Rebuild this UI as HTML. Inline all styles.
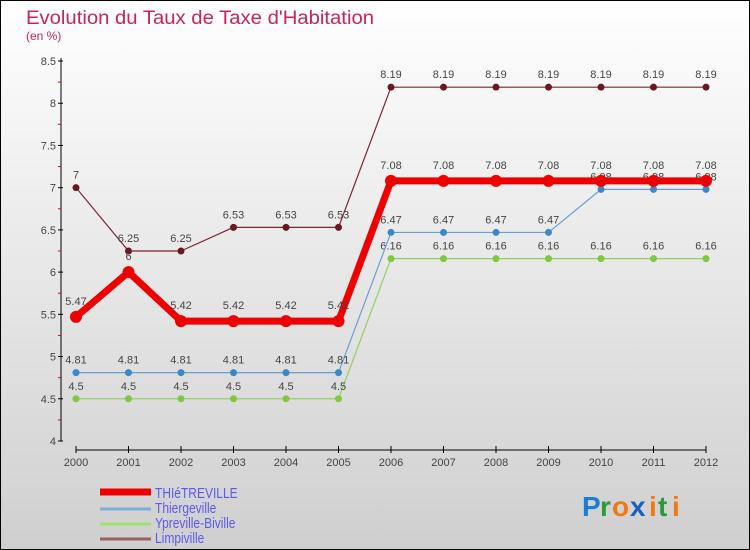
<!DOCTYPE html>
<html><head><meta charset="utf-8"><style>
body{margin:0}
#c{width:750px;height:550px;position:relative;overflow:hidden}
svg text{font-family:"Liberation Sans",sans-serif}
</style></head><body>
<div id="c">
<svg id="s" width="750" height="550" xmlns="http://www.w3.org/2000/svg">
<defs><linearGradient id="bg" x1="0" y1="0" x2="0" y2="1"><stop offset="0" stop-color="#ffffff"/><stop offset="1" stop-color="#cfcfcf"/></linearGradient></defs>
<rect x="0.5" y="0.5" width="749" height="549" fill="url(#bg)" stroke="#000"/>
<text x="26" y="24" font-size="19" fill="#c8245a" textLength="348" lengthAdjust="spacingAndGlyphs">Evolution du Taux de Taxe d'Habitation</text>
<text x="26" y="40" font-size="12" fill="#c8245a">(en %)</text>
<g id="axes"></g>
<g id="series"></g>
<g id="legend"></g>
<g font-size="28" font-weight="bold" font-family="Liberation Sans,sans-serif">
<text x="582" y="516" fill="#1a7fd0">P</text><text x="600" y="516" fill="#2a9a3a">r</text><text x="612" y="516" fill="#f07a10">o</text><text x="630" y="516" fill="#1a5fc0">x</text><text x="649" y="516" fill="#f07a10">i</text><text x="658" y="516" fill="#2a9a3a">t</text><text x="672" y="516" fill="#f07a10">i</text>
</g>
</svg>
</div>
<script>
const years=[2000,2001,2002,2003,2004,2005,2006,2007,2008,2009,2010,2011,2012];
const yTicks=[4,4.5,5,5.5,6,6.5,7,7.5,8,8.5];
const seriesNames=["THIéTREVILLE","Thiergeville","Ypreville-Biville","Limpiville"];
const thietreville=[5.47,6,5.42,5.42,5.42,5.42,7.08,7.08,7.08,7.08,7.08,7.08,7.08];
const thiergeville=[4.81,4.81,4.81,4.81,4.81,4.81,6.47,6.47,6.47,6.47,6.98,6.98,6.98];
const ypreville=[4.5,4.5,4.5,4.5,4.5,4.5,6.16,6.16,6.16,6.16,6.16,6.16,6.16];
const limpiville=[7,6.25,6.25,6.53,6.53,6.53,8.19,8.19,8.19,8.19,8.19,8.19,8.19];
const NS="http://www.w3.org/2000/svg";
function X(i){return 76+i*(706-76)/(years.length-1);}
function Y(v){return 441-(v-4)*(441-61)/4.5;}
function mk(tag,attrs,parent){const e=document.createElementNS(NS,tag);for(const k in attrs)e.setAttribute(k,attrs[k]);parent.appendChild(e);return e;}
const ax=document.getElementById('axes');
let yl=mk('line',{x1:61,y1:58,x2:61,y2:441,stroke:'#000'},ax);


yTicks.forEach((t,i)=>{
 const y=Y(t);
 mk('line',{x1:58,y1:y,x2:63,y2:y,stroke:'#000'},ax);
 if(i<yTicks.length-1) mk('line',{x1:58,y1:Y(t+0.25),x2:61,y2:Y(t+0.25),stroke:'#e00'},ax);
 const tx=mk('text',{x:56,y:y+4,'font-size':11,fill:'#444','text-anchor':'end'},ax);
 tx.textContent=String(t);
 
 
});
let xl=mk('line',{x1:76,y1:450,x2:706,y2:450,stroke:'#000'},ax);


years.forEach((yr,i)=>{
 mk('line',{x1:X(i),y1:446,x2:X(i),y2:453,stroke:'#000'},ax);
 const tx=mk('text',{x:X(i),y:466,'font-size':11,fill:'#444','text-anchor':'middle'},ax);
 tx.textContent=yr;
 
 
});
const sg=document.getElementById('series');
function draw(vals,color,w,r,dot,name,lblOff){
 const g=mk('g',{},sg);
 
 
 mk('polyline',{points:vals.map((v,i)=>X(i)+','+Y(v)).join(' '),fill:'none',stroke:color,'stroke-width':w,'stroke-linejoin':'round'},g);
 vals.forEach((v,i)=>{
  const c=mk('circle',{cx:X(i),cy:Y(v),r:r,fill:dot},g);
  
  
  const t=mk('text',{x:X(i),y:Y(v)-lblOff,'font-size':11,fill:'#444','text-anchor':'middle'},g);
  t.textContent=String(v);
  
  
 });
}
draw(limpiville,'#7a2830',1.2,3.5,'#6a1820',name='limpiville-series',9);
draw(ypreville,'#90d060',1.2,3.5,'#80c840','ypreville-biville-series',9);
draw(thiergeville,'#6a9ed0',1.2,3.5,'#3a88c8','thiergeville-series',9);
draw(thietreville,'#ee0000',7,6,'#ee0000','thietreville-series',12);
const lg=document.getElementById('legend');
const lc=['#ee0000','#7ab0d8','#a0e070','#9a6060'];
const lw=[7,3,3,3];
seriesNames.forEach((n,i)=>{
 const y=492+i*15;
 const g=mk('g',{},lg);
 
 
 mk('line',{x1:100,y1:y+(i==0?0:2),x2:151,y2:y+(i==0?0:2),stroke:lc[i],'stroke-width':lw[i]},g);
 const t=mk('text',{x:155,y:y+6,'font-size':15,fill:'#5a5aee'},g);
 t.setAttribute('transform','translate(155 0) scale(0.8 1) translate(-155 0)');
 t.textContent=n;
});
</script>
</body></html>
